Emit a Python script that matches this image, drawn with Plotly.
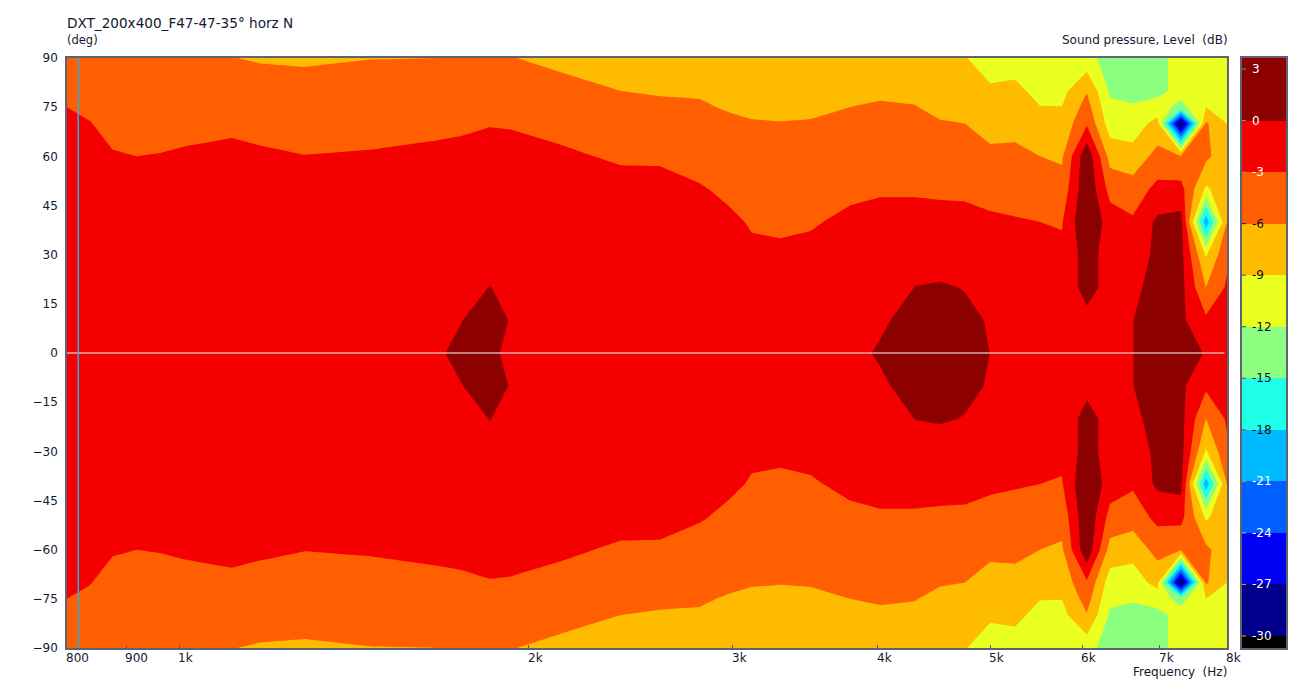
import math
import numpy as np
import plotly.graph_objects as go

FREQS = [800, 837, 876, 919, 962, 1011, 1110, 1173, 1283, 1460, 1677, 1752, 1852, 1927, 2128, 2398, 2596, 2810, 2984,
         3116, 3295, 3496, 3784, 4017, 4306, 4526, 4756, 4999, 5252, 5520, 5766, 6058, 6342, 6638, 6968, 7301, 7673, 8000]
ANGLES = [90, 80, 70, 60, 50, 40, 30, 20, 10, 0, -10, -20, -30, -40, -50, -60, -70, -80, -90]

# level (dB) per frequency, from +90 deg down to -90 deg
c0800 = [-5,-3.7,-2.3,-1.5,-1,-.7,-.5,-.4,-.3,-.2,-.3,-.4,-.5,-.7,-1,-1.5,-2.3,-3.7,-5]
c0837 = [-5,-4.1,-2.9,-1.8,-1.1,-.8,-.5,-.4,-.3,-.2,-.3,-.4,-.5,-.8,-1.1,-1.8,-2.9,-4.1,-5]
c0876 = [-5.2,-4.6,-3.8,-2.8,-1.7,-1,-.6,-.4,-.3,-.2,-.3,-.4,-.6,-1,-1.7,-2.8,-3.8,-4.6,-5.2]
c0919 = [-5.3,-4.7,-4,-3,-1.9,-1.1,-.7,-.5,-.3,-.2,-.3,-.5,-.7,-1.1,-1.9,-3,-4,-4.7,-5.3]
c0962 = [-5.4,-4.8,-3.9,-2.9,-1.8,-1.1,-.7,-.5,-.3,-.2,-.3,-.5,-.7,-1.1,-1.8,-2.9,-3.9,-4.8,-5.4]
c1011 = [-5.5,-4.7,-3.7,-2.7,-1.6,-1,-.7,-.5,-.3,-.2,-.3,-.5,-.7,-1,-1.6,-2.7,-3.7,-4.7,-5.5]
c1110 = [-5.95,-4.9,-3.4,-2.5,-1.5,-1,-.7,-.5,-.3,-.2,-.3,-.5,-.7,-1,-1.5,-2.5,-3.4,-4.9,-5.95]
c1173 = [-6.2,-5,-3.6,-2.7,-1.7,-1.1,-.7,-.5,-.3,-.2,-.3,-.5,-.7,-1.1,-1.7,-2.7,-3.6,-5,-6.2]
c1283 = [-6.3,-5.2,-4,-2.95,-1.9,-1.2,-.8,-.5,-.3,-.2,-.3,-.5,-.8,-1.2,-1.9,-2.95,-4,-5.2,-6.3]
c1460 = [-6.05,-5,-3.8,-2.8,-1.8,-1.2,-.8,-.6,-.3,-.2,-.3,-.6,-.8,-1.2,-1.8,-2.8,-3.8,-5,-6.05]
c1677 = [-6,-4.8,-3.4,-2.6,-1.7,-1.2,-.8,-.6,-.4,-.1,-.4,-.6,-.8,-1.2,-1.7,-2.6,-3.4,-4.8,-6]
c1752 = [-6,-4.7,-3.3,-2.5,-1.6,-1.1,-.7,-.5,-.02,.3,-.02,-.5,-.7,-1.1,-1.6,-2.5,-3.3,-4.7,-6]
c1852 = [-5.95,-4.4,-3.1,-2.2,-1.2,-.8,-.4,.03,.6,.1,.6,.03,-.4,-.8,-1.2,-2.2,-3.1,-4.4,-5.95]
c1927 = [-5.9,-4.5,-3.15,-2.3,-1.4,-.9,-.6,-.3,-.05,-.1,-.05,-.3,-.6,-.9,-1.4,-2.3,-3.15,-4.5,-5.9]
c2128 = [-6.6,-5.2,-3.7,-2.6,-1.6,-1,-.7,-.5,-.3,-.2,-.3,-.5,-.7,-1,-1.6,-2.6,-3.7,-5.2,-6.6]
c2398 = [-7.5,-6,-4.8,-3.3,-2.2,-1.4,-.9,-.6,-.4,-.2,-.4,-.6,-.9,-1.4,-2.2,-3.3,-4.8,-6,-7.5]
c2596 = [-8,-6.2,-5,-3.3,-2.3,-1.5,-1,-.7,-.4,-.2,-.4,-.7,-1,-1.5,-2.3,-3.3,-5,-6.2,-8]
c2810 = [-8.2,-6.3,-5.1,-3.9,-2.8,-1.8,-1.1,-.8,-.5,-.3,-.5,-.8,-1.1,-1.8,-2.8,-3.9,-5.1,-6.3,-8.2]
c2984 = [-8.4,-7,-5.5,-4.4,-3.5,-2.6,-1.7,-1.2,-.8,-.5,-.8,-1.2,-1.7,-2.6,-3.5,-4.4,-5.5,-7,-8.4]
c3116 = [-8.5,-7.3,-5.8,-4.8,-4,-3.2,-2.6,-1.6,-1,-.7,-1,-1.6,-2.6,-3.2,-4,-4.8,-5.8,-7.3,-8.5]
c3295 = [-8.6,-7.4,-5.9,-4.9,-4.1,-3.3,-2.7,-1.7,-1,-.7,-1,-1.7,-2.7,-3.3,-4.1,-4.9,-5.9,-7.4,-8.6]
c3496 = [-8.6,-7.3,-5.8,-4.8,-3.9,-3.2,-2.5,-1.5,-.9,-.5,-.9,-1.5,-2.5,-3.2,-3.9,-4.8,-5.8,-7.3,-8.6]
c3784 = [-8.3,-6.7,-5.3,-4.3,-3.4,-2.6,-1.6,-.9,-.6,-.5,-.6,-.9,-1.6,-2.6,-3.4,-4.3,-5.3,-6.7,-8.3]
c4017 = [-8.1,-6.4,-5.1,-4.1,-3.2,-2.4,-1.4,-.8,-.3,.2,-.3,-.8,-1.4,-2.4,-3.2,-4.1,-5.1,-6.4,-8.1]
c4306 = [-8.3,-6.6,-5.2,-4.1,-3.2,-2.4,-.4,.02,.7,1.3,.7,.02,-.4,-2.4,-3.2,-4.1,-5.2,-6.6,-8.3]
c4526 = [-8.7,-7.4,-5.8,-4.3,-3.3,-2.4,-.7,.15,1.1,1.5,1.1,.15,-.7,-2.4,-3.3,-4.3,-5.8,-7.4,-8.7]
c4756 = [-8.9,-7.8,-6,-4.6,-3.3,-2.5,-1.3,-.05,.3,.8,.3,-.05,-1.3,-2.5,-3.3,-4.6,-6,-7.8,-8.9]
c4999 = [-10,-8.7,-7,-5.4,-3.6,-2.7,-1.6,-.9,-.1,-.01,-.1,-.9,-1.6,-2.7,-3.6,-5.4,-7,-8.7,-10]
c5252 = [-10.5,-8.2,-6.8,-5.4,-4,-2.8,-1.9,-1.2,-.6,-.1,-.6,-1.2,-1.9,-2.8,-4,-5.4,-6.8,-8.2,-10.5]
c5520 = [-11,-10,-7.8,-6,-4.4,-3,-2,-1.3,-.7,-.1,-.7,-1.3,-2,-3,-4.4,-6,-7.8,-10,-11]
c5766 = [-11,-9.9,-8,-6.4,-4.9,-3.2,-2.4,-1.8,-1,-.3,-1,-1.8,-2.4,-3.2,-4.9,-6.4,-8,-9.9,-11]
c6058 = [-11,-6.2,-3.4,2.3,2.5,3,1.35,1,-.8,-.2,-.8,1,1.35,3,2.5,2.3,-3.4,-6.2,-11]
c6342 = [-13.3,-12.4,-10.5,-7.1,-4,-1.5,-1.4,-1,-.7,-.5,-.7,-1,-1.4,-1.5,-4,-7.1,-10.5,-12.4,-13.3]
c6638 = [-14,-13,-10.5,-7.9,-4.6,-2.6,-1.2,-.8,-.05,-.05,-.05,-.8,-1.2,-2.6,-4.6,-7.9,-10.5,-13,-14]
c6968 = [-13.5,-13,-8,-5,-2.2,.6,.5,1.3,2,2,2,1.3,.5,.6,-2.2,-5,-8,-13,-13.5]
c7301 = [-10.2,-10.8,-31,-5.8,-2,1,1,1,.6,1.5,.6,1,1,1,-2,-5.8,-31,-10.8,-10.2]
c7673 = [-11,-11,-5.6,-5.3,-9.5,-20,-9.3,-6,-2.4,-.2,-2.4,-6,-9.3,-20,-9.5,-5.3,-5.6,-11,-11]
c8000 = [-10,-10,-9,-8,-7,-6,-3.6,-2.6,-1.5,-.8,-1.5,-2.6,-3.6,-6,-7,-8,-9,-10,-10]

# extra rows at +75 and -75 deg, one value per frequency
row_p75 = [-3,-3.5,-4.2,-4.35,-4.35,-4.2,-4.15,-4.3,-4.6,-4.4,-4.1,-4,-3.75,-3.8,-4.45,-5.4,-5.6,-5.7,-6.25,-6.55,
           -6.65,-6.55,-6,-5.75,-5.9,-6.6,-6.9,-7.85,-7.5,-8.9,-8.95,-4.8,-11.45,-11.7,-10.6,-13,-9,-9.5]
row_m75 = [-3,-3.5,-4.2,-4.35,-4.35,-4.2,-4.15,-4.3,-4.6,-4.4,-4.1,-4,-3.75,-3.8,-4.45,-5.4,-5.6,-5.7,-6.25,-6.55,
           -6.65,-6.55,-6,-5.75,-5.9,-6.6,-6.9,-7.85,-7.5,-8.9,-8.95,-4.8,-11.45,-11.7,-10.6,-13,-9,-9.5]

COLUMNS = [c0800, c0837, c0876, c0919, c0962, c1011, c1110, c1173, c1283, c1460, c1677, c1752, c1852, c1927, c2128,
           c2398, c2596, c2810, c2984, c3116, c3295, c3496, c3784, c4017, c4306, c4526, c4756, c4999, c5252, c5520,
           c5766, c6058, c6342, c6638, c6968, c7301, c7673, c8000]

LEVELS = [-30, -27, -24, -21, -18, -15, -12, -9, -6, -3, 0]
BAR_EDGES = [-30.7] + LEVELS + [3.64]
BAND_COLORS = ["#000000", "#00008c", "#0000f5", "#005fff", "#00bbff", "#1fffe8",
               "#8cff80", "#e8ff1f", "#ffbb00", "#ff5f00", "#f50000", "#8c0000"]
BAR_TICKS = [3, 0, -3, -6, -9, -12, -15, -18, -21, -24, -27, -30]
BAR_LABEL_COLORS = ["white", "white", "white", "#101020", "#101020", "#101020", "#101020", "#101020",
                    "white", "white", "white", "white"]
BAR_TICK_COLORS = ["#20b0c0", "#20c0b0", "#30c080", "#202080", "#3040b0", "#306030",
                   "#d02040", "#d02040", "#a0c020", "#d0d040", "#c0c020", "#c0c020"]
X_TICKS = [800, 900, 1000, 2000, 3000, 4000, 5000, 6000, 7000, 8000]
X_LABELS = ["800", "900", "1k", "2k", "3k", "4k", "5k", "6k", "7k", "8k"]
Y_TICKS = list(range(-90, 91, 15))
MARKER_FREQ = 818

W, H = 1300, 684
TXT = "#141830"
FONT = "DejaVu Sans"
PLOT_X = (67, 1227)
BAR_X = (1242, 1286)
PLOT_Y = (58, 648)

rows = dict(zip(ANGLES, np.array(COLUMNS).T.tolist()))
rows[75] = row_p75
rows[-75] = row_m75
y = sorted(rows)
z = [rows[a] for a in y]
n = len(LEVELS)

fig = go.Figure()
fig.add_trace(go.Contour(
    x=FREQS, y=y, z=z, xaxis="x", yaxis="y", showscale=False, hoverinfo="skip",
    autocontour=False,
    contours=dict(start=LEVELS[0], end=LEVELS[-1], size=3, coloring="fill", showlines=False),
    line=dict(width=0, smoothing=0),
    colorscale=[[k / n, c] for k, c in enumerate(BAND_COLORS)],
))
fig.add_trace(go.Scatter(x=[FREQS[0], 7960], y=[0, 0], mode="lines", xaxis="x", yaxis="y",
                         line=dict(color="#ffffff", width=1), hoverinfo="skip", showlegend=False))
fig.add_trace(go.Scatter(x=[MARKER_FREQ, MARKER_FREQ], y=[-90, 90], mode="lines", xaxis="x", yaxis="y",
                         line=dict(color="#20b4e8", width=1.5), hoverinfo="skip", showlegend=False))
fig.add_trace(go.Heatmap(
    x=[0, 1], y=BAR_EDGES, z=[[k] for k in range(len(BAND_COLORS))], xaxis="x2", yaxis="y2",
    zmin=0, zmax=len(BAND_COLORS) - 1, showscale=False, hoverinfo="skip",
    colorscale=[[k / n, c] for k, c in enumerate(BAND_COLORS)],
))

ann = []
for f, lab in zip(X_TICKS, X_LABELS):
    ann.append(dict(x=math.log10(f), y=1 - 658 / H, xref="x", yref="paper", text=lab, showarrow=False,
                    xanchor="left", yanchor="middle", xshift=-3, font=dict(size=12, color=TXT, family=FONT)))
for v, col in zip(BAR_TICKS, BAR_LABEL_COLORS):
    ann.append(dict(x=(1252 - BAR_X[0]) / (BAR_X[1] - BAR_X[0]), y=v, xref="x2", yref="y2", text=str(v), showarrow=False,
                    xanchor="left", yanchor="middle", xshift=-2, font=dict(size=12, color=col, family=FONT)))


def label(px, py, text, size, anchor):
    return dict(x=px / W, y=1 - py / H, xref="paper", yref="paper", text=text, showarrow=False,
                xanchor=anchor, yanchor="middle", xshift=0, yshift=0, font=dict(size=size, color=TXT, family=FONT))


ann += [
    label(65, 23, "DXT_200x400_F47-47-35° horz N", 13.6, "left"),
    label(65, 40, "(deg)", 11.5, "left"),
    label(1230, 40, "Sound pressure, Level\u00a0\u00a0(dB)", 12, "right"),
    label(1229, 672, "Frequency\u00a0\u00a0(Hz)", 12, "right"),
]

shapes = [dict(type="line", xref="x2", yref="y2", x0=0, x1=4 / (BAR_X[1] - BAR_X[0]), y0=v, y1=v,
               line=dict(color=c, width=1)) for v, c in zip(BAR_TICKS, BAR_TICK_COLORS)]

BORDER = "#5c6470"
fig.update_layout(
    width=W, height=H, margin=dict(l=0, r=0, t=0, b=0, autoexpand=False), paper_bgcolor="white", plot_bgcolor="white",
    showlegend=False, annotations=ann, shapes=shapes, font=dict(family=FONT, size=12, color=TXT),
    xaxis=dict(type="log", range=[math.log10(800), math.log10(8000)], domain=[PLOT_X[0] / W, PLOT_X[1] / W],
               tickvals=X_TICKS, showticklabels=False, ticks="inside", ticklen=3, tickcolor="#505880", mirror=True,
               showline=True, linecolor=BORDER, linewidth=1.5, showgrid=False, zeroline=False),
    yaxis=dict(range=[-90, 90], domain=[1 - PLOT_Y[1] / H, 1 - PLOT_Y[0] / H], tickvals=Y_TICKS,
               ticks="", ticklabelstandoff=5, mirror=True,
               showline=True, linecolor=BORDER, linewidth=1.5, showgrid=False, zeroline=False,
               tickfont=dict(size=12, color=TXT, family=FONT)),
    xaxis2=dict(range=[0, 1], domain=[BAR_X[0] / W, BAR_X[1] / W], anchor="y2", showticklabels=False, ticks="",
                showline=True, linecolor=BORDER, linewidth=1.5, mirror=True, showgrid=False, zeroline=False),
    yaxis2=dict(range=[BAR_EDGES[0], BAR_EDGES[-1]], domain=[1 - PLOT_Y[1] / H, 1 - PLOT_Y[0] / H], anchor="x2",
                showticklabels=False, ticks="", showline=True, linecolor=BORDER, linewidth=1.5, mirror=True,
                showgrid=False, zeroline=False),
)
fig.write_html("out.html", config=dict(displayModeBar=False),
               post_script="document.body.style.margin='0';document.body.style.overflow='hidden';")
